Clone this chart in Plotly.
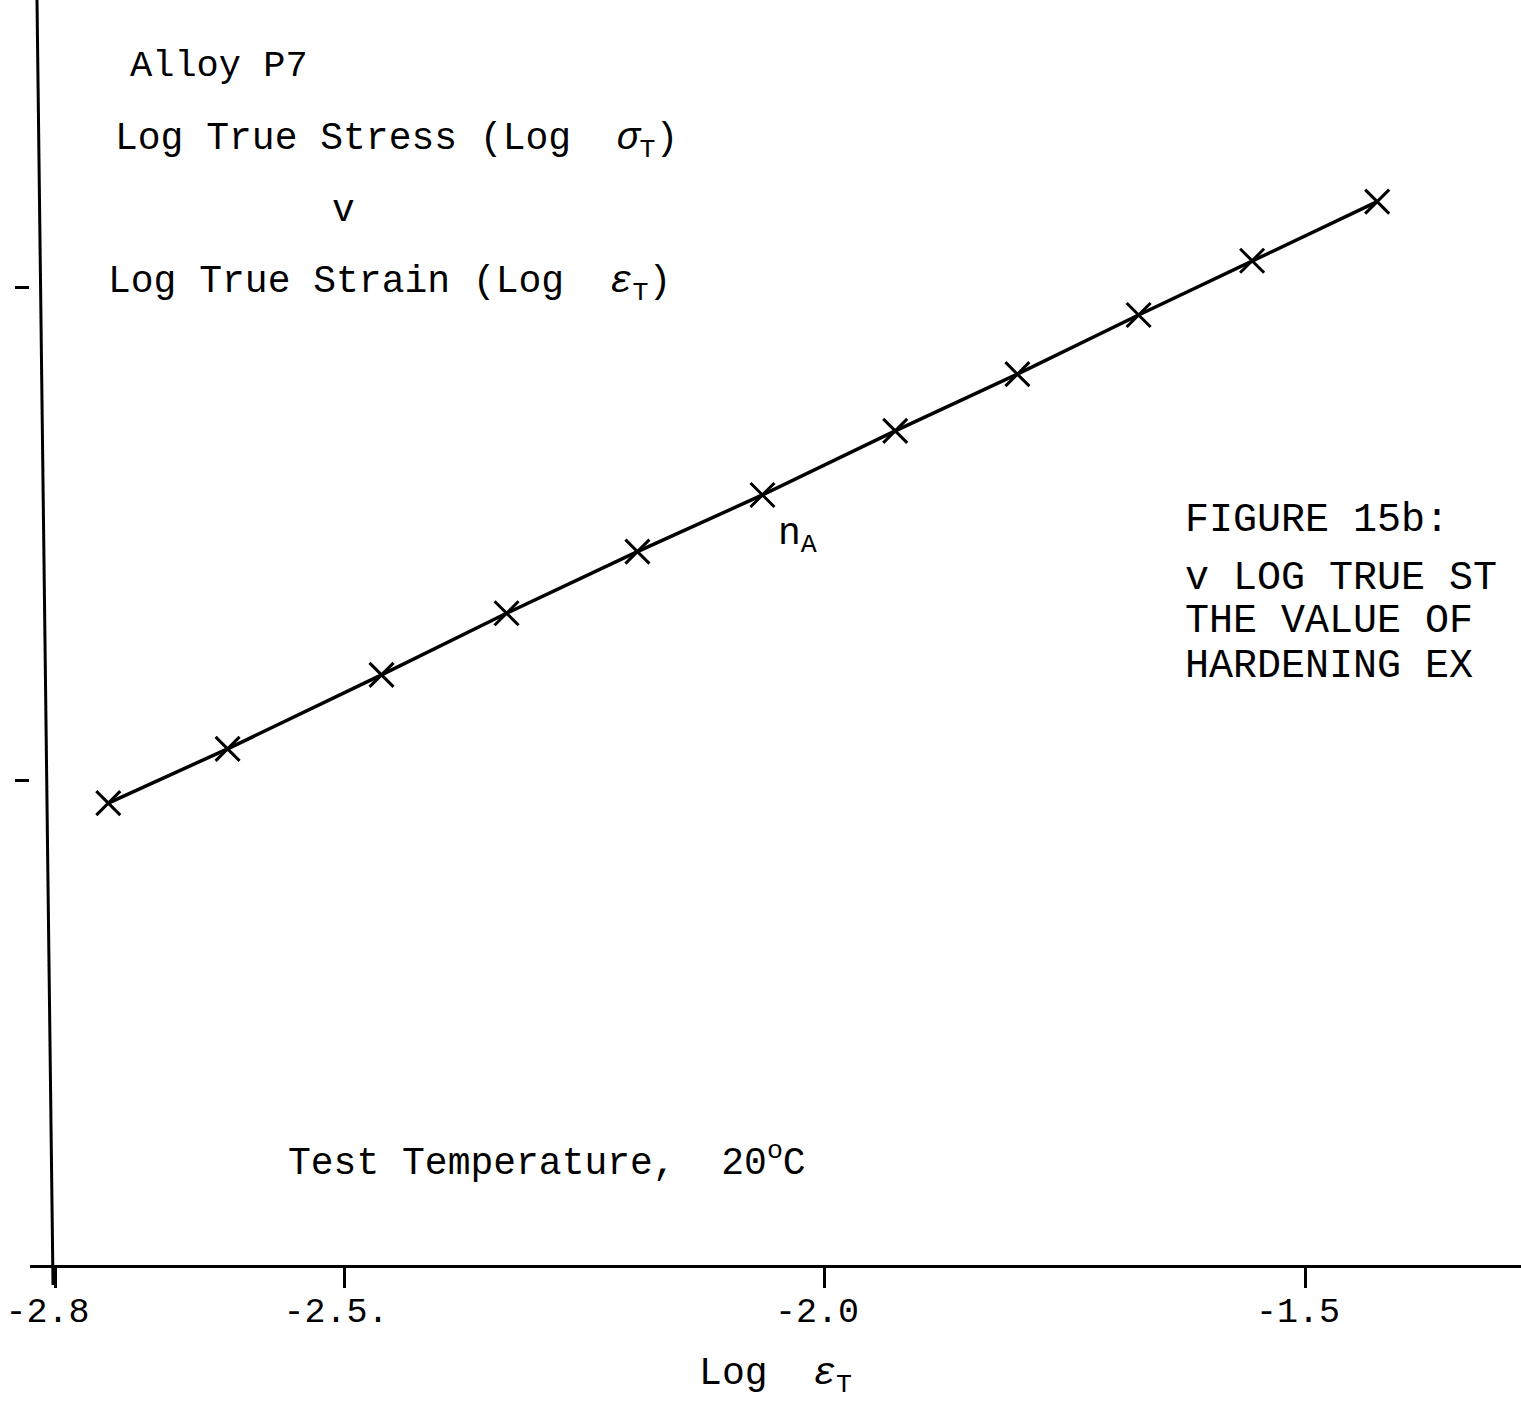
import plotly.graph_objects as go

# Data (Log true strain vs Log true stress, Alloy P7, 20 C)
log_strain = [-2.745, -2.621, -2.461, -2.331, -2.195, -2.065, -1.927, -1.800, -1.674, -1.556, -1.426]
log_stress = [2.191, 2.213, 2.243, 2.268, 2.293, 2.316, 2.342, 2.365, 2.389, 2.411, 2.435]

x_tick_vals = [-2.8, -2.5, -2.0, -1.5]
x_tick_text = ["-2.8", "-2.5.", "-2.0", "-1.5"]
y_tick_vals = [2.2, 2.4]

FONT = "Liberation Mono"
W, H = 1521, 1417
L, R, T, B = 30, 0, 0, 152
PW, PH = W - L - R, H - T - B


def px(x):
    return (x - L) / PW


def py(y):
    return (H - B - y) / PH


fig = go.Figure()
fig.add_trace(go.Scatter(
    x=log_strain, y=log_stress, mode="lines+markers",
    line=dict(color="black", width=3.5),
    marker=dict(symbol="x-thin", size=24, line=dict(color="black", width=3)),
    showlegend=False, cliponaxis=False,
))

texts = [
    ("Alloy P7", 128, 66, 37),
    ("Log True Stress (Log  <i>σ</i><sub>T</sub>)", 113, 141, 38),
    ("v", 330, 210, 38),
    ("Log True Strain (Log  <i>ε</i><sub>T</sub>)", 106, 284, 38),
    ("n<sub>A</sub>", 776, 536, 38),
    ("FIGURE 15b:", 1183, 521, 40),
    ("v LOG TRUE ST", 1183, 578, 40),
    ("THE VALUE OF", 1183, 621, 40),
    ("HARDENING EX", 1183, 666, 40),
    ("Test Temperature,  20<sup>o</sup>C", 286, 1160, 38),
]
annotations = []
for t, x, y, s in texts:
    annotations.append(dict(
        text=t, x=px(x), y=py(y), xref="paper", yref="paper",
        xanchor="left", yanchor="middle", showarrow=False,
        font=dict(family=FONT, size=s, color="black"),
    ))

fig.update_layout(
    width=W, height=H,
    margin=dict(l=L, r=R, t=T, b=B),
    paper_bgcolor="white", plot_bgcolor="white",
    annotations=annotations,
    shapes=[dict(type="line", xref="paper", yref="paper",
                 x0=px(37), y0=py(0), x1=px(53), y1=py(1285),
                 line=dict(color="black", width=3))],
    xaxis=dict(
        range=[-2.8264, -1.2765], showgrid=False, zeroline=False,
        showline=True, linecolor="black", linewidth=3,
        ticks="outside", ticklen=20, tickwidth=3, tickcolor="black",
        tickvals=x_tick_vals, ticktext=x_tick_text,
        ticklabelshift=-8, ticklabelstandoff=-8,
        tickfont=dict(family=FONT, size=35, color="black"),
        title=dict(text="Log  <i>ε</i><sub>T</sub>", standoff=26,
                   font=dict(family=FONT, size=38, color="black")),
    ),
    yaxis=dict(
        range=[2.0036, 2.5168], showgrid=False, zeroline=False,
        showline=False, ticks="outside", ticklen=14, tickwidth=3,
        tickcolor="black", tickvals=y_tick_vals, showticklabels=False,
    ),
)

fig.write_html("out.html")
